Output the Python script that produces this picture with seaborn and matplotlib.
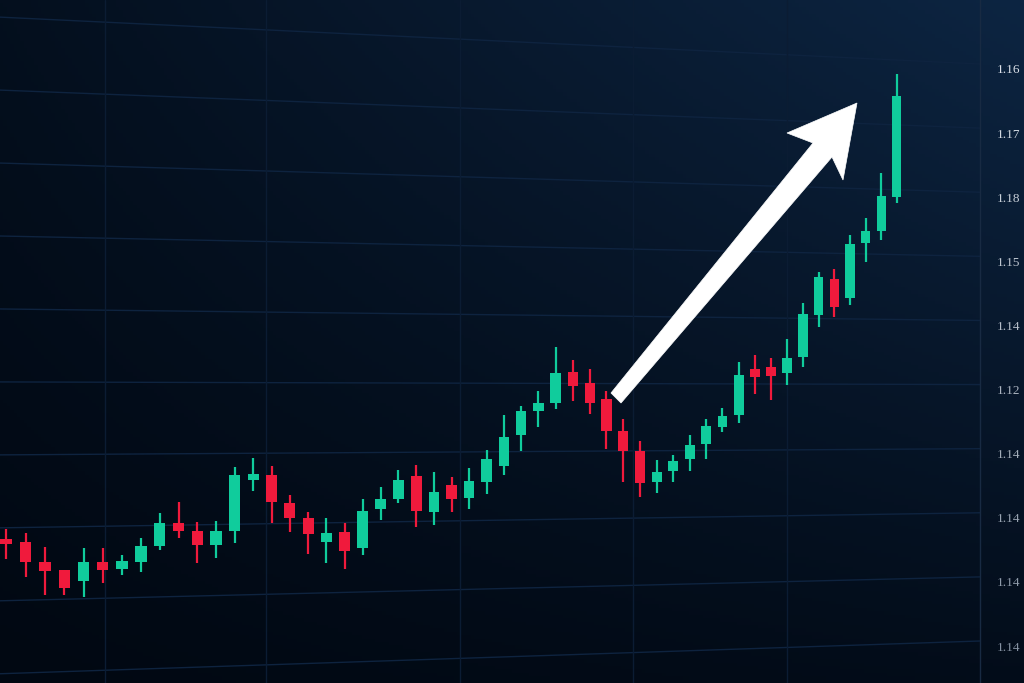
import numpy as np
import pandas as pd
import matplotlib
matplotlib.use('Agg')
import matplotlib.pyplot as plt
from matplotlib.patches import Polygon
import seaborn as sns

### Candle values (OHLC)
open_p = [1.1144, 1.1141, 1.1121, 1.1113, 1.1102, 1.1121, 1.1114, 1.1121, 1.1137, 1.1160,
          1.1152, 1.1138, 1.1152, 1.1203, 1.1208, 1.1180, 1.1165, 1.1141, 1.1151, 1.1135,
          1.1174, 1.1184, 1.1207, 1.1171, 1.1198, 1.1185, 1.1201, 1.1217, 1.1248, 1.1272,
          1.1280, 1.1311, 1.1300, 1.1284, 1.1252, 1.1232, 1.1201, 1.1212, 1.1224, 1.1239,
          1.1256, 1.1268, 1.1314, 1.1316, 1.1310, 1.1326, 1.1368, 1.1404, 1.1385, 1.1440,
          1.1452, 1.1486]
high_p = [1.1154, 1.1150, 1.1136, 1.1113, 1.1135, 1.1135, 1.1128, 1.1145, 1.1170, 1.1181,
          1.1161, 1.1162, 1.1216, 1.1225, 1.1217, 1.1188, 1.1171, 1.1165, 1.1160, 1.1184,
          1.1196, 1.1213, 1.1218, 1.1211, 1.1206, 1.1215, 1.1233, 1.1268, 1.1277, 1.1292,
          1.1336, 1.1323, 1.1314, 1.1292, 1.1264, 1.1242, 1.1223, 1.1228, 1.1248, 1.1264,
          1.1275, 1.1321, 1.1328, 1.1325, 1.1344, 1.1380, 1.1411, 1.1414, 1.1448, 1.1465,
          1.1510, 1.1609]
low_p = [1.1124, 1.1106, 1.1088, 1.1088, 1.1086, 1.1100, 1.1108, 1.1111, 1.1133, 1.1145,
         1.1120, 1.1125, 1.1140, 1.1192, 1.1160, 1.1151, 1.1129, 1.1120, 1.1114, 1.1128,
         1.1163, 1.1180, 1.1156, 1.1158, 1.1171, 1.1174, 1.1189, 1.1208, 1.1232, 1.1256,
         1.1274, 1.1282, 1.1269, 1.1234, 1.1201, 1.1186, 1.1190, 1.1201, 1.1212, 1.1224,
         1.1251, 1.1260, 1.1289, 1.1283, 1.1298, 1.1316, 1.1356, 1.1366, 1.1378, 1.1421,
         1.1443, 1.1480]
close_p = [1.1139, 1.1121, 1.1112, 1.1095, 1.1121, 1.1113, 1.1122, 1.1137, 1.1160, 1.1152,
           1.1138, 1.1152, 1.1208, 1.1209, 1.1181, 1.1165, 1.1149, 1.1150, 1.1132, 1.1172,
           1.1184, 1.1203, 1.1172, 1.1191, 1.1184, 1.1202, 1.1224, 1.1246, 1.1272, 1.1280,
           1.1310, 1.1297, 1.1280, 1.1252, 1.1232, 1.1200, 1.1211, 1.1222, 1.1238, 1.1257,
           1.1267, 1.1308, 1.1306, 1.1307, 1.1325, 1.1369, 1.1406, 1.1376, 1.1439, 1.1452,
           1.1487, 1.1587]
price_labels = ['1.16', '1.17', '1.18', '1.15', '1.14', '1.12', '1.14', '1.14', '1.14', '1.14']

df = pd.DataFrame({'open': open_p, 'high': high_p, 'low': low_p, 'close': close_p})
df['idx'] = np.arange(len(df))
df['up'] = df['close'] >= df['open']

GREEN = '#10cc9c'
RED = '#f01a3c'

sns.set_theme(style='dark', rc={'axes.facecolor': 'none', 'figure.facecolor': '#020b18'})

fig = plt.figure(figsize=(10.24, 6.83), dpi=100)

### Background gradient
bg = fig.add_axes([0, 0, 1, 1], zorder=0)
xx, yy = np.meshgrid(np.linspace(0, 1, 300), np.linspace(1, 0, 200))
t = 0.6 * xx * yy + 0.25 * yy + 0.15 * xx
dark = np.array([1, 8, 18]) / 255
light = np.array([13, 37, 66]) / 255
img = dark + (light - dark) * t[..., None]
bg.imshow(img, aspect='auto', extent=[0, 1, 0, 1])
bg.set_axis_off()

### Price axes
ax = fig.add_axes([0, 0, 980 / 1024, 1], zorder=1)
ax.set_facecolor('none')

B, C = 19.55, 0.04075
def fwd(i):
    return B * np.asarray(i) - C * np.asarray(i) ** 2
def inv(y):
    return (B - np.sqrt(np.clip(B ** 2 - 4 * C * np.asarray(y), 0, None))) / (2 * C)
ax.set_xscale('function', functions=(fwd, inv))
ax.set_xlim(-0.31, 56.5)
ax.set_ylim(1.1000, 1.1683)

### Grid
ax.set_xticks([5.1, 13.7, 24.5, 34.6, 44.0])
ax.grid(axis='x', color='#0b1c33', lw=1)
ax.grid(axis='y', visible=False)
tick_pos = np.linspace(1.1614, 1.1037, len(price_labels))
for tp in tick_pos:
    r = 683 - (tp - 1.10) * 10000 - 5
    l = -55.7 + 1.138 * r
    ax.plot([0, 1], [1 - l / 683, 1 - r / 683], transform=ax.transAxes,
            color='#0e233f', lw=1, zorder=0.5)

### Candles
colors = np.where(df['up'], GREEN, RED)
ax.vlines(df['idx'], df['low'], df['high'], colors=colors, lw=1.6, zorder=2)
ax.bar(df['idx'], (df['close'] - df['open']).abs(), bottom=df[['open', 'close']].min(axis=1),
       width=0.6, color=colors, linewidth=0, zorder=3)

### Right axis labels
ax.yaxis.tick_right()
ax.set_yticks(tick_pos)
ax.set_yticklabels(price_labels, fontfamily='Liberation Serif', fontsize=9.5)
ax.tick_params(axis='y', length=0, pad=12)
ax.tick_params(axis='x', length=0, labelbottom=False)
shades = np.linspace(0, 1, len(price_labels))
for lab, s in zip(ax.get_yticklabels(), shades):
    c = np.array([0.86, 0.88, 0.91]) * (1 - s) + np.array([0.52, 0.57, 0.63]) * s
    lab.set_color(c)
for side in ['top', 'bottom', 'left']:
    ax.spines[side].set_visible(False)
ax.spines['right'].set_color('#182a42')
ax.spines['right'].set_linewidth(1)

### Arrow
pts = [(611, 393), (813, 143), (787, 133), (857, 103), (843, 180), (832, 157), (621, 403)]
pts = [(x / 1024, 1 - y / 683) for x, y in pts]
fig.add_artist(Polygon(pts, closed=True, transform=fig.transFigure,
                       facecolor='white', edgecolor='white', lw=0.5, zorder=5))

fig.savefig('out.png', dpi=100)
